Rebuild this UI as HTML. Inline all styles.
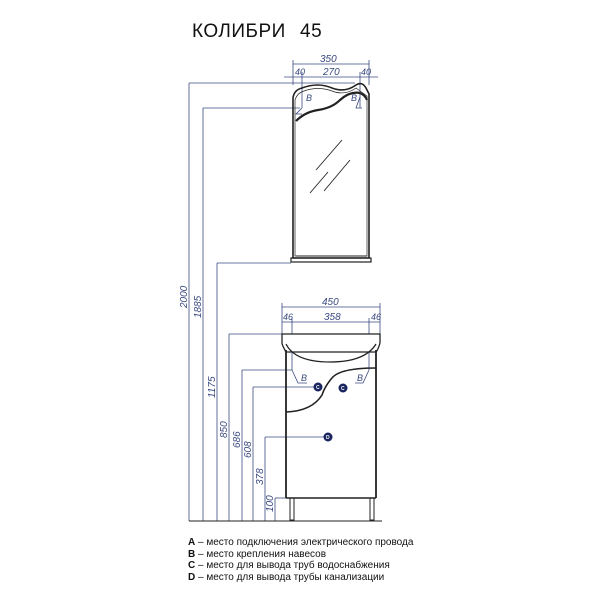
<!DOCTYPE html>
<html><head><meta charset="utf-8"><style>
html,body{margin:0;padding:0;background:#fff;width:600px;height:600px;overflow:hidden}
svg{display:block}
</style></head><body>
<svg width="600" height="600" viewBox="0 0 600 600" xmlns="http://www.w3.org/2000/svg" font-family="Liberation Sans, sans-serif">
<text x="192" y="37" font-size="19" fill="#111" letter-spacing="0.5">КОЛИБРИ</text>
<text x="300" y="37" font-size="19" fill="#111" letter-spacing="0.5">45</text>

<g stroke="#3a4a80" stroke-width="0.8" fill="none">
 <line x1="293" y1="64" x2="369" y2="64"/>
 <line x1="293" y1="60" x2="293" y2="85"/><line x1="369" y1="60" x2="369" y2="85"/>
 <line x1="284" y1="77" x2="378" y2="77"/>
 <line x1="302" y1="72" x2="302" y2="108"/><line x1="360" y1="72" x2="360" y2="108"/>
 <line x1="189" y1="83" x2="189" y2="521"/><line x1="189" y1="83" x2="355" y2="83"/>
 <line x1="203" y1="108" x2="203" y2="521"/><line x1="203" y1="108" x2="300" y2="108"/>
 <line x1="217" y1="263" x2="217" y2="521"/><line x1="217" y1="263" x2="291" y2="263"/>
 <line x1="229" y1="334" x2="229" y2="521"/><line x1="229" y1="334" x2="283" y2="334"/>
 <line x1="242" y1="370" x2="242" y2="521"/><line x1="242" y1="370" x2="292" y2="370"/>
 <line x1="253" y1="387" x2="253" y2="521"/><line x1="253" y1="387" x2="316" y2="387"/>
 <line x1="265" y1="437" x2="265" y2="521"/><line x1="265" y1="437" x2="326" y2="437"/>
 <line x1="275" y1="498" x2="275" y2="521"/><line x1="275" y1="498" x2="287" y2="498"/>
 <line x1="282" y1="307" x2="380" y2="307"/>
 <line x1="282" y1="303" x2="282" y2="334"/><line x1="380" y1="303" x2="380" y2="334"/>
 <line x1="282" y1="322" x2="380" y2="322"/>
 <line x1="292" y1="318" x2="292" y2="370"/><line x1="369" y1="318" x2="369" y2="370"/>
 <polyline points="292,370 298,383 307,383"/>
 <polyline points="369,370 363,383 355,383"/>
 <polyline points="302,108 296,114 302,114"/>
 <polyline points="360,97 356,108 362,108"/>
</g>
<g fill="#3a4a80" font-size="10" font-style="italic">
 <text x="320" y="62" font-size="10">350</text>
 <text x="295" y="75" font-size="9">40</text>
 <text x="323" y="75" font-size="10">270</text>
 <text x="361" y="75" font-size="9">40</text>
 <text x="322" y="305">450</text>
 <text x="283" y="320" font-size="9">46</text>
 <text x="324" y="320">358</text>
 <text x="371" y="320" font-size="9">46</text>
 <text x="306" y="101" font-size="9">B</text>
 <text x="351" y="101" font-size="9">B</text>
 <text x="301" y="381" font-size="9">B</text>
 <text x="357" y="381" font-size="9">B</text>
 <text transform="translate(187,308) rotate(-90)" font-size="10">2000</text>
 <text transform="translate(201,318) rotate(-90)" font-size="10">1885</text>
 <text transform="translate(215,398) rotate(-90)" font-size="10">1175</text>
 <text transform="translate(227,438) rotate(-90)" font-size="10">850</text>
 <text transform="translate(240,448) rotate(-90)" font-size="10">686</text>
 <text transform="translate(251,458) rotate(-90)" font-size="10">608</text>
 <text transform="translate(263,485) rotate(-90)" font-size="10">378</text>
 <text transform="translate(273,512) rotate(-90)" font-size="10">100</text>
</g>

<g stroke="#222" fill="none">
 <path d="M293,258 L293,98 Q294,90 302,88 Q318,82 332,88 Q345,93 356,85 Q362,81 366,88 L369,94 L369,258 Z" stroke-width="1.6"/>
 <path d="M295,256 L295,100 Q297,93 304,91 Q318,86 332,91 Q345,96 356,88 L367,96 L367,256 Z" stroke-width="0.7"/>
 <path d="M296,121 Q305,112 318,110 Q332,108 340,100 Q350,91 360,93 Q365,95 367,100" stroke-width="2.2"/>
 <line x1="296" y1="256" x2="367" y2="256" stroke-width="1"/>
 <rect x="291" y="258" width="80" height="4" stroke-width="1.2"/>
 <g stroke-width="0.9"><line x1="316" y1="170" x2="342" y2="140"/><line x1="310" y1="193" x2="328" y2="172"/><line x1="324" y1="191" x2="350" y2="160"/></g>
 <path d="M282,334 L380,334 L380,343 Q378,350 376,352 L286,352 Q282,345 282,343 Z" stroke-width="1.3" fill="#fff"/>
 <path d="M286,344 Q295,362 330,362 Q365,362 376,344" stroke-width="1.3"/>
 <line x1="286" y1="350" x2="286" y2="498" stroke-width="1.8"/>
 <line x1="376" y1="350" x2="376" y2="498" stroke-width="1.8"/>
 <line x1="286" y1="498" x2="376" y2="498" stroke-width="1.5"/>
 <path d="M376,368 Q340,368 332,378 Q325,386 322,395 Q312,411 286,412" stroke-width="1.6"/>
 <rect x="290" y="498" width="4" height="22" stroke-width="1"/>
 <rect x="370" y="498" width="4" height="22" stroke-width="1"/>
 <line x1="189" y1="521" x2="382" y2="521" stroke-width="1"/>
</g>
<g fill="#1a2560">
 <circle cx="318" cy="387" r="4.5"/><circle cx="343" cy="388" r="4.5"/><circle cx="328" cy="437" r="4.5"/>
</g>
<g fill="#fff" font-size="5" font-weight="bold"><text x="316" y="389">C</text><text x="341" y="390">C</text><text x="326" y="439">D</text></g>

<g font-size="10" fill="#111">
 <text x="188" y="545"><tspan font-weight="bold">A</tspan> – место подключения электрического провода</text>
 <text x="188" y="557"><tspan font-weight="bold">B</tspan> – место крепления навесов</text>
 <text x="188" y="568"><tspan font-weight="bold">C</tspan> – место для вывода труб водоснабжения</text>
 <text x="188" y="580"><tspan font-weight="bold">D</tspan> – место для вывода трубы канализации</text>
</g>
</svg>
</body></html>
